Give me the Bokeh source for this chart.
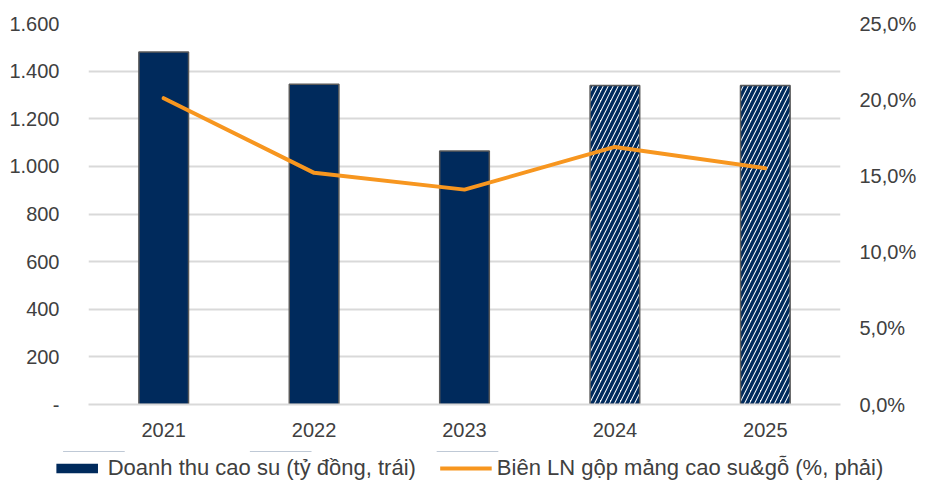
from bokeh.plotting import figure
from bokeh.layouts import column, row
from bokeh.models import (FactorRange, Range1d, LinearAxis, FixedTicker, Legend,
                          LegendItem, ColumnDataSource)
from bokeh.embed import file_html
from bokeh.resources import INLINE

years = ["2021", "2022", "2023", "2024", "2025"]
revenue = [1480, 1345, 1065, 1340, 1340]        # tỷ đồng (left)
forecast = [False, False, False, True, True]
margin = [20.1, 15.2, 14.1, 16.9, 15.5]          # % (right)

left_ticks = [0, 200, 400, 600, 800, 1000, 1200, 1400, 1600]
left_labels = ["-", "200", "400", "600", "800", "1.000", "1.200", "1.400", "1.600"]
right_ticks = [0, 5, 10, 15, 20, 25]
right_labels = ["0,0%", "5,0%", "10,0%", "15,0%", "20,0%", "25,0%"]

series_bar = "Doanh thu cao su (tỷ đồng, trái)"
series_line = "Biên LN gộp mảng cao su&gỗ (%, phải)"

NAVY = "#002A5C"
ORANGE = "#F7961F"
OUTLINE = "#595959"
FONT = "Liberation Sans"
TXT = "#404040"

p = figure(frame_width=752, frame_height=381, x_range=FactorRange(*years),
           y_range=Range1d(0, 1600), output_backend="svg", toolbar_location=None,
           min_border_left=88, min_border_right=94, min_border_top=23, min_border_bottom=47)
p.extra_y_ranges = {"right": Range1d(0, 25)}
p.outline_line_color = None
p.background_fill_color = "white"
p.x_range.range_padding = 0

act = ColumnDataSource(dict(x=[y for y, f in zip(years, forecast) if not f],
                            top=[v for v, f in zip(revenue, forecast) if not f]))
fc = ColumnDataSource(dict(x=[y for y, f in zip(years, forecast) if f],
                           top=[v for v, f in zip(revenue, forecast) if f]))

p.vbar(x="x", top="top", width=0.33, source=act, fill_color=NAVY,
       line_color=OUTLINE, line_width=1.5)
p.vbar(x="x", top="top", width=0.33, source=fc, fill_color="white",
       line_color=OUTLINE, line_width=1.5, hatch_pattern="/",
       hatch_color=NAVY, hatch_weight=3.5, hatch_scale=10)

p.line(x=years, y=margin, y_range_name="right", line_color=ORANGE,
       line_width=4, line_cap="round", line_join="round")

# axes
p.yaxis.ticker = FixedTicker(ticks=left_ticks)
p.yaxis.major_label_overrides = {t: l for t, l in zip(left_ticks, left_labels)}
ra = LinearAxis(y_range_name="right", ticker=FixedTicker(ticks=right_ticks))
ra.major_label_overrides = {t: l for t, l in zip(right_ticks, right_labels)}
p.add_layout(ra, "right")

for ax in [p.yaxis[0], ra]:
    ax.axis_line_color = None
    ax.major_tick_line_color = None
    ax.minor_tick_line_color = None
    ax.major_label_text_font = FONT
    ax.major_label_text_font_size = "20px"
    ax.major_label_text_color = TXT
p.yaxis[0].major_label_standoff = 23
ra.major_label_standoff = 13

p.xaxis.axis_line_color = "#D9D9D9"
p.xaxis.axis_line_width = 2
p.xaxis.major_tick_line_color = None
p.xaxis.minor_tick_line_color = None
p.xaxis.major_label_text_font = FONT
p.xaxis.major_label_text_font_size = "20px"
p.xaxis.major_label_text_color = TXT
p.xaxis.major_label_standoff = 12

p.xgrid.grid_line_color = None
p.ygrid.grid_line_color = "#D9D9D9"
p.ygrid.grid_line_width = 2

# legend strip: its own small figure; the same series are drawn there but fall
# outside its visible y range, so only the legend entries show.
lg = figure(frame_width=934, frame_height=34, x_range=FactorRange(*years),
            y_range=Range1d(-2, -1), output_backend="svg", toolbar_location=None,
            min_border_left=0, min_border_right=0, min_border_top=0, min_border_bottom=0,
            x_axis_location=None, y_axis_location=None)
lg.outline_line_color = None
lg.grid.visible = False
lb = lg.vbar(x="x", top="top", width=0.33, source=act, fill_color=NAVY,
             line_color=None)
ll = lg.line(x=years, y=margin, line_color=ORANGE, line_width=4)

legend = Legend(items=[LegendItem(label=series_bar, renderers=[lb]),
                       LegendItem(label=series_line, renderers=[ll])],
                orientation="horizontal", location="center",
                label_text_font=FONT, label_text_font_size="22px",
                label_text_color=TXT, glyph_width=52, glyph_height=12,
                label_standoff=5, spacing=24, border_line_color=None,
                background_fill_alpha=0, margin=0, padding=0)
lg.add_layout(legend, "center")

layout = column(p, row(lg, spacing=0), spacing=0)
open("out.html", "w").write(file_html(layout, INLINE))
